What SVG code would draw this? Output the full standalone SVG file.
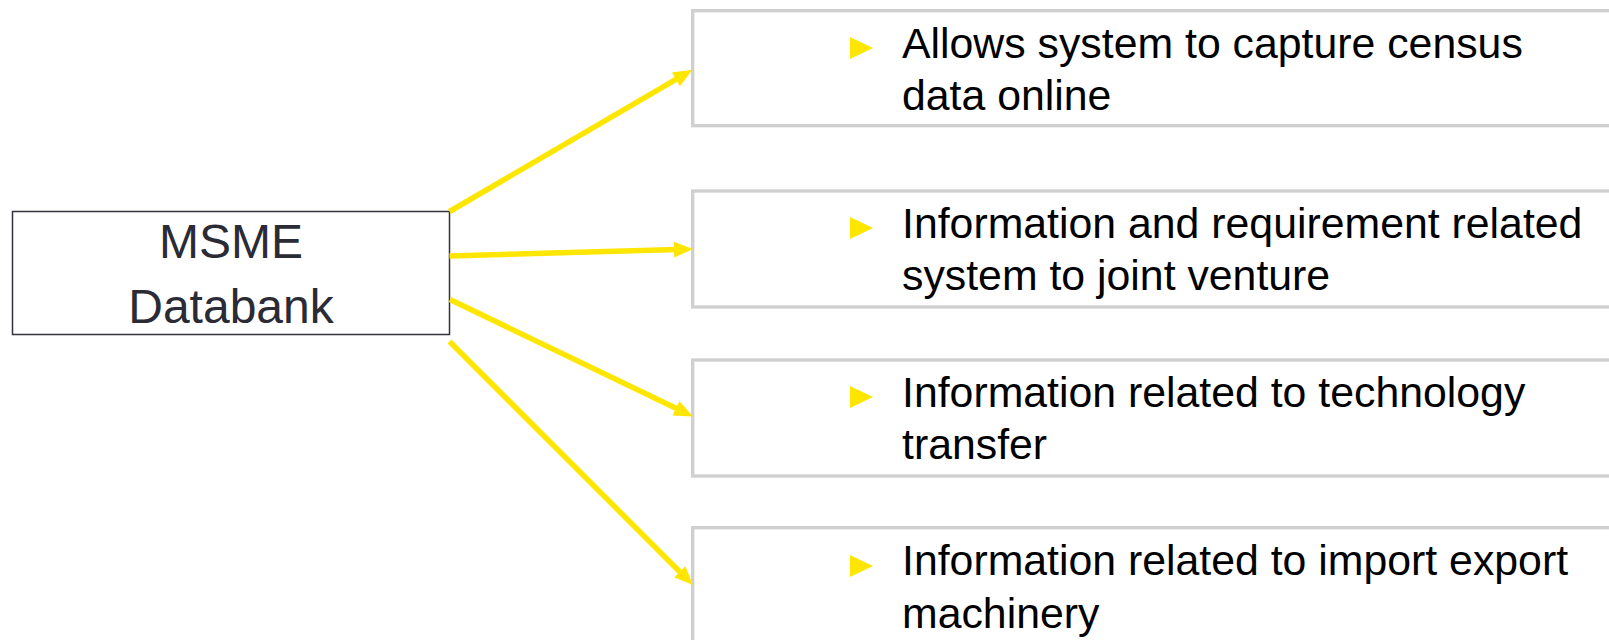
<svg xmlns="http://www.w3.org/2000/svg" width="1609" height="640" viewBox="0 0 1609 640">
  <style>
    .src { fill: #ffffff; stroke: #33333f; stroke-width: 1.5; }
    .srctxt { font-family: "Liberation Sans", Arial, sans-serif; font-size: 48px; fill: #2b2b36; text-anchor: middle; }
    .box { fill: #ffffff; stroke: #cfcfcf; stroke-width: 3.3; }
    .txt { font-family: "Liberation Sans", Arial, sans-serif; font-size: 42.8px; fill: #000000; }
    .bul { fill: #ffe600; }
    .arr { stroke: #ffe600; stroke-width: 5.5; fill: none; marker-end: url(#ah); }
  </style>
  <defs>
    <marker id="ah" markerUnits="userSpaceOnUse" markerWidth="20" markerHeight="16" refX="3" refY="8" orient="auto">
      <path d="M0,0 L19,8 L0,16 z" fill="#ffe600"/>
    </marker>
  </defs>

  <g id="msme-databank">
    <rect class="src" x="12.5" y="211.5" width="437" height="123"/>
    <text class="srctxt" x="231" y="258">MSME</text>
    <text class="srctxt" x="231" y="323">Databank</text>
  </g>

  <g id="node-census">
    <rect class="box" x="692.7" y="10.7" width="940" height="115"/>
    <polygon class="bul" points="850,37 873,48 850,59"/>
    <text class="txt" x="902" y="57.5">Allows system to capture census</text>
    <text class="txt" x="902" y="110">data online</text>
  </g>

  <g id="node-joint-venture">
    <rect class="box" x="692.7" y="191" width="940" height="116"/>
    <polygon class="bul" points="850,217 873,228 850,239"/>
    <text class="txt" x="902" y="238">Information and requirement related</text>
    <text class="txt" x="902" y="290">system to joint venture</text>
  </g>

  <g id="node-technology">
    <rect class="box" x="692.7" y="360" width="940" height="116"/>
    <polygon class="bul" points="850,386 873,397 850,408"/>
    <text class="txt" x="902" y="406.5">Information related to technology</text>
    <text class="txt" x="902" y="458.5">transfer</text>
  </g>

  <g id="node-import-export">
    <rect class="box" x="692.7" y="527.7" width="940" height="116"/>
    <polygon class="bul" points="850,555 873,566 850,577"/>
    <text class="txt" x="902" y="575">Information related to import export</text>
    <text class="txt" x="902" y="627.5">machinery</text>
  </g>

  <g id="connectors">
    <line class="arr" x1="449.5" y1="211.5" x2="678.5" y2="77.9"/>
    <line class="arr" x1="449.5" y1="256" x2="677" y2="249.5"/>
    <line class="arr" x1="450" y1="299.5" x2="678.6" y2="409.6"/>
    <line class="arr" x1="449.5" y1="341.5" x2="681.7" y2="573.7"/>
  </g>
</svg>
